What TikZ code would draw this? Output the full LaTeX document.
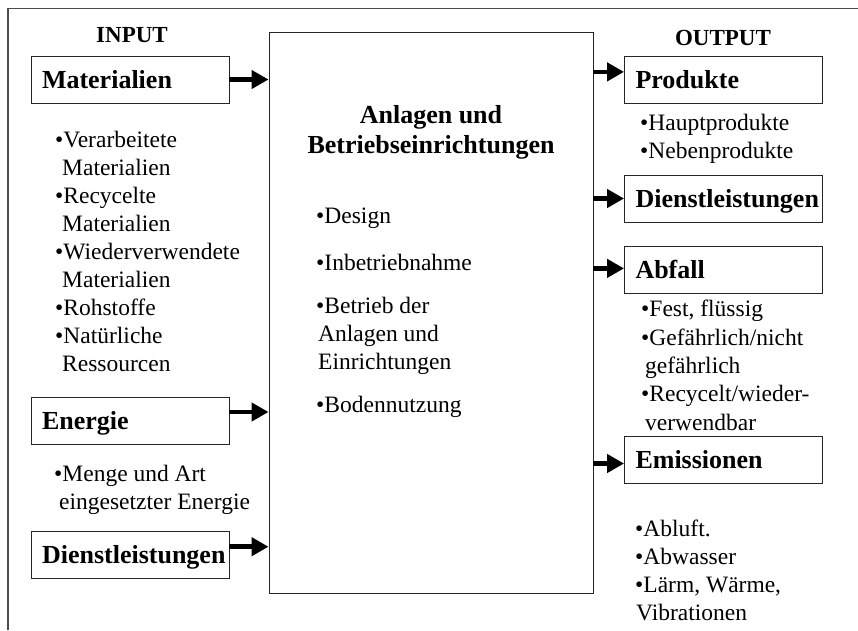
\documentclass[tikz,border=0pt]{standalone}
\usepackage{fontspec}
\setmainfont{Liberation Serif}
\usetikzlibrary{arrows.meta}

\begin{document}
\begin{tikzpicture}[x=1pt,y=-1pt,
	box/.style={draw=black!85,line width=0.9pt,minimum height=47pt,text width=176pt,inner xsep=11pt,inner ysep=0pt,text height=22pt,text depth=4pt,align=left,font=\fontsize{26}{30}\selectfont\bfseries,execute at begin node={\hyphenpenalty=10000 }},
	arr/.style={line width=4.5pt,-{Triangle[length=17pt,width=18pt]}},
	list/.style={anchor=base west,inner sep=0pt,align=left,font=\fontsize{23.5}{28}\selectfont},
	head/.style={anchor=base,inner sep=0pt,font=\fontsize{23}{28}\selectfont\bfseries}]
	\useasboundingbox (0,0) rectangle (858,630);
	%frame
	\draw[black!70,line width=1.4pt] (8,630) -- (8,8.5) -- (858,8.5);
	
	%plant (middle) -- lists are placed by the baseline of their last line
	\node[draw=black!85,line width=0.9pt,minimum width=324pt,minimum height=561pt,inner sep=0pt] (anl) at (431,312.5) {};
	\node[anchor=base,inner sep=0pt,align=center,font=\fontsize{26}{30}\selectfont\bfseries] (titel) at (431,153) {Anlagen und\\Betriebseinrichtungen};
	\node[list] (anlL) at (316,412) {\textbullet Design\\[19pt]\textbullet Inbetriebnahme\\[15pt]\textbullet Betrieb der\\\hspace{2pt}Anlagen und\\\hspace{2pt}Einrichtungen\\[15pt]\textbullet Bodennutzung};
	
	%inputs (left)
	\node[head] (inp) at (132,42) {INPUT};
	\node[box] (mat) at (130,79.5) {Materialien};
	\node[list] (matL) at (55,371) {\textbullet Verarbeitete\\\hspace{7pt}Materialien\\\textbullet Recycelte\\\hspace{7pt}Materialien\\\textbullet Wiederverwendete\\\hspace{7pt}Materialien\\\textbullet Rohstoffe\\\textbullet Natürliche\\\hspace{7pt}Ressourcen};
	\node[box] (ene) at (130,420.5) {Energie};
	\node[list] (eneL) at (54,509) {\textbullet Menge und Art\\\hspace{5pt}eingesetzter Energie};
	\node[box] (dieL) at (130,554.7) {Dienstleistungen};
	
	\draw[arr] (mat.east) -- (mat.east -| anl.west);
	\draw[arr] ([yshift=8.5pt]ene.east) -- ([yshift=8.5pt]ene.east -| anl.west);
	\draw[arr] ([yshift=8pt]dieL.east) -- ([yshift=8pt]dieL.east -| anl.west);
	
	%outputs (right)
	\node[head] (outp) at (723,45) {OUTPUT};
	\node[box] (pro) at (723.5,79.5) {Produkte};
	\node[list] (proL) at (640,158) {\textbullet Hauptprodukte\\\textbullet Nebenprodukte};
	\node[box] (dieR) at (723.5,198.5) {Dienstleistungen};
	\node[box] (abf) at (723.5,269.7) {Abfall};
	\node[list,font=\fontsize{23.5}{28.3}\selectfont] (abfL) at (641,430) {\textbullet Fest, flüssig\\\textbullet Gefährlich/nicht\\\hspace{4pt}gefährlich\\\textbullet Recycelt/wieder-\\\hspace{4pt}verwendbar};
	\node[box] (emi) at (723.5,459.5) {Emissionen};
	\node[list,font=\fontsize{23.5}{27.7}\selectfont] (emiL) at (635,620) {\textbullet Abluft.\\\textbullet Abwasser\\\textbullet Lärm, Wärme,\\\hspace{1pt}Vibrationen};
	
	\draw[arr] ([yshift=7.6pt]pro.west -| anl.east) -- ([yshift=7.6pt]pro.west);
	\draw[arr] (dieR.west -| anl.east) -- (dieR.west);
	\draw[arr] ([yshift=1.3pt]abf.west -| anl.east) -- ([yshift=1.3pt]abf.west);
	\draw[arr] ([yshift=-4pt]emi.west -| anl.east) -- ([yshift=-4pt]emi.west);
\end{tikzpicture}
\end{document}
